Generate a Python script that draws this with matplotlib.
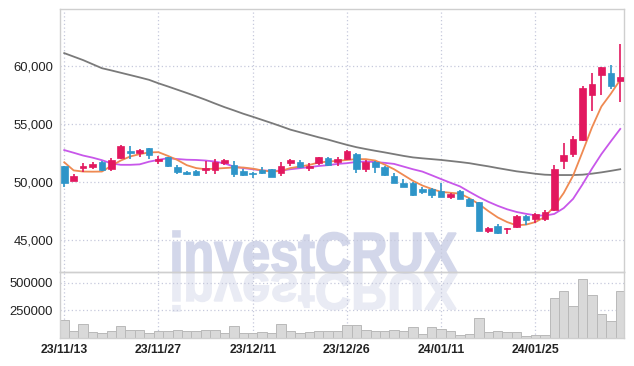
import numpy as np
import matplotlib
matplotlib.use('Agg')
import matplotlib.pyplot as plt
from matplotlib.textpath import TextPath
from matplotlib.patches import PathPatch
from matplotlib.font_manager import FontProperties
from matplotlib.transforms import Affine2D
from matplotlib.ticker import FuncFormatter

# daily candles (60 trading days)
opens = [51390, 50110, 51240, 51330, 51730, 51100, 52110, 52690, 52540, 52950,
         51850, 52160, 51330, 50840, 50930, 51040, 51040, 51650, 51430, 50940,
         50810, 51040, 51100, 50810, 51670, 51730, 51240, 51670, 52080, 51730,
         51990, 52430, 51160, 51760, 51270, 50520, 49940, 49940, 49390, 49360,
         49220, 48730, 49220, 48500, 48270, 45780, 46190, 45930, 46130, 47050,
         46820, 46790, 47570, 51800, 52430, 53640, 57480, 59220, 59360, 58700]
closes = [49890, 50520, 51420, 51590, 51040, 51900, 53120, 52540, 52720, 52310,
          51990, 51410, 50840, 50690, 50580, 51240, 51730, 51930, 50670, 50640,
          50720, 50810, 50460, 51390, 51910, 51300, 51410, 52140, 51450, 52020,
          52680, 51130, 51760, 51330, 50640, 49940, 49600, 48900, 49130, 48900,
          48730, 48960, 48500, 47950, 45780, 46070, 45610, 46070, 47050, 46710,
          47230, 47460, 51130, 52340, 53730, 58060, 58410, 59880, 58300, 59020]
highs = [51400, 50690, 51620, 51730, 51820, 52050, 53210, 53120, 52830, 52950,
         52250, 52160, 51470, 50930, 51040, 51820, 52020, 51990, 51810, 51130,
         50890, 51270, 51100, 51710, 51990, 51880, 51620, 52190, 52140, 52190,
         52750, 52500, 51910, 51820, 51390, 50750, 50230, 50000, 49600, 49500,
         49880, 49070, 49310, 48590, 48300, 46130, 46420, 46070, 47140, 47140,
         47340, 47630, 51470, 53360, 53990, 58260, 59360, 59880, 60060, 61880]
lows = [49570, 50090, 50840, 51100, 50950, 50930, 52020, 52020, 52190, 52020,
        51530, 51270, 50670, 50580, 50490, 50670, 50690, 51470, 50460, 50490,
        50320, 50670, 50440, 50490, 51410, 51240, 50950, 51500, 51360, 51390,
        51900, 50750, 50890, 50810, 50520, 49880, 49540, 48810, 48930, 48590,
        48730, 48500, 48500, 47860, 45780, 45640, 45560, 45500, 46070, 46270,
        46470, 46640, 47510, 51100, 52140, 53490, 56100, 57460, 57980, 56910]
volumes = [158000, 64000, 128000, 46000, 40000, 64000, 109000, 73000, 73000, 44000,
           55000, 55000, 73000, 64000, 55000, 73000, 73000, 42000, 109000, 42000,
           42000, 50000, 42000, 128000, 64000, 42000, 50000, 60000, 55000, 55000,
           119000, 119000, 73000, 55000, 64000, 73000, 64000, 100000, 36000, 100000,
           82000, 55000, 27000, 36000, 182000, 46000, 64000, 46000, 46000, 15000,
           27000, 27000, 365000, 425000, 286000, 538000, 392000, 219000, 151000, 422000]

# moving averages as drawn on the chart
ma_short = [51700, 51000, 50900, 50890, 50900, 51400, 51850, 52200, 52400, 52550,
            52570, 52250, 51900, 51450, 51200, 51100, 51150, 51200, 51250, 51250,
            51150, 51000, 50900, 50950, 51200, 51330, 51470, 51680, 51760, 51820,
            51900, 51970, 51970, 51850, 51500, 51100, 50600, 50100, 49700, 49400,
            49150, 49070, 49000, 48600, 48100, 47500, 46950, 46550, 46270, 46330,
            46550, 47000, 47900, 49050, 50550, 52600, 54700, 56500, 57600, 58800]
ma_mid = [52750, 52520, 52280, 52100, 51880, 51600, 51480, 51480, 51520, 51750,
          51910, 52050, 51980, 51920, 51900, 51850, 51760, 51600, 51330, 51200,
          51100, 51000, 50950, 50980, 51100, 51190, 51280, 51380, 51450, 51560,
          51620, 51730, 51760, 51720, 51650, 51560, 51330, 51100, 50900, 50580,
          50250, 49930, 49620, 49150, 48700, 48300, 47950, 47650, 47420, 47260,
          47130, 47100, 47250, 47750, 48550, 49800, 51150, 52400, 53500, 54570]
ma_long = [61100, 60800, 60500, 60150, 59800, 59610, 59410, 59210, 59010, 58800,
           58500, 58230, 57950, 57670, 57380, 57080, 56760, 56450, 56170, 55880,
           55620, 55350, 55080, 54800, 54510, 54290, 54070, 53850, 53650, 53420,
           53200, 53000, 52840, 52690, 52550, 52400, 52250, 52120, 52040, 51970,
           51900, 51810, 51720, 51620, 51480, 51350, 51200, 51060, 50920, 50820,
           50710, 50630, 50600, 50600, 50600, 50630, 50720, 50830, 50960, 51100]

tick_pos = [0, 10, 20, 30, 40, 50]
tick_labels = ['23/11/13', '23/11/27', '23/12/11', '23/12/26', '24/01/11', '24/01/25']
price_ticks = [45000, 50000, 55000, 60000]
vol_ticks = [250000, 500000]

UP = '#e2185f'
DOWN = '#2e95c8'
GRID = '#c6c9dc'
EDGE = '#cfcfcf'

plt.rcParams['font.family'] = ['Liberation Sans', 'DejaVu Sans']

fig = plt.figure(figsize=(6.34, 3.66), dpi=100)
fig.patch.set_facecolor('white')
W, H = 634, 366

ax = fig.add_axes([60 / W, 1 - 272 / H, 564 / W, 263 / H])
axv = fig.add_axes([60 / W, 1 - 337.5 / H, 564 / W, 65.5 / H], sharex=ax)
for a in (ax, axv):
    a.set_facecolor('none')
    for s in a.spines.values():
        s.set_color(EDGE)
        s.set_linewidth(1.0)
    a.grid(True, color=GRID, linestyle=(0, (1, 2)), linewidth=0.9)
    a.set_axisbelow(True)
    a.tick_params(length=0, labelsize=9.4, colors='#222222', pad=5)

# watermark with reflection
fp = FontProperties(family='Liberation Sans', weight='bold')
tp = TextPath((0, 0), 'investCRUX', size=1, prop=fp)
bb = tp.get_extents()
x0, x1 = 173, 457
base = H - 273
main_tr = Affine2D().translate(-bb.x0, -bb.y0).scale((x1 - x0) / bb.width, 42 / bb.height).translate(x0, base)
refl_tr = Affine2D().translate(-bb.x0, -bb.y0).scale((x1 - x0) / bb.width, -38 / bb.height).translate(x0, base)
to_fig = Affine2D().scale(1 / W, 1 / H) + fig.transFigure
fig.patches.append(PathPatch(tp, transform=main_tr + to_fig, facecolor='#d3d7ea', edgecolor='#d3d7ea',
                             linewidth=1.2, zorder=-5))
fig.patches.append(PathPatch(tp, transform=refl_tr + to_fig, facecolor='#e9ebf4', edgecolor='#e9ebf4',
                             linewidth=1.2, zorder=-6))

x = np.arange(len(opens))
o = np.array(opens)
c = np.array(closes)
colors = [UP if cc >= oo else DOWN for oo, cc in zip(o, c)]

# moving averages
ax.plot(x, ma_long, color='#7a7a7a', lw=1.3, zorder=2)
ax.plot(x, ma_mid, color='#c857ea', lw=1.3, zorder=2)
ax.plot(x, ma_short, color='#ef8a52', lw=1.3, zorder=2)

# candles
ax.vlines(x, lows, highs, colors=colors, lw=1.2, zorder=3)
ax.bar(x, np.abs(c - o), bottom=np.minimum(o, c), width=0.7, color=colors, edgecolor=colors, linewidth=0.5, zorder=4)

ax.set_ylim(42250, 64900)
ax.set_yticks(price_ticks)
ax.yaxis.set_major_formatter(FuncFormatter(lambda v, p: f'{int(v):,}'))
ax.set_xlim(-0.45, 59.4)
ax.set_xticks(tick_pos)
ax.tick_params(axis='x', labelbottom=False)

# volume
axv.bar(x, volumes, width=1.0, color='#d9d9d9', edgecolor='#b9b9b9', linewidth=0.7, zorder=2)
axv.set_ylim(0, 600000)
axv.set_yticks(vol_ticks)
axv.set_xticks(tick_pos)
axv.set_xticklabels(tick_labels)
for lab in axv.get_xticklabels():
    lab.set_fontweight('bold')
    lab.set_fontsize(8.8)

fig.savefig('out.png', dpi=100)
